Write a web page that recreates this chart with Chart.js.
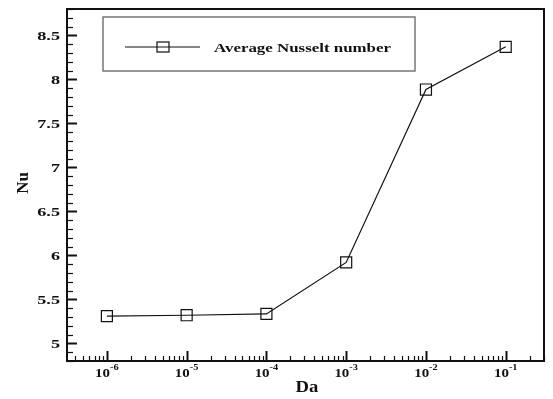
<!DOCTYPE html>
<html>
<head>
<meta charset="utf-8">
<script src="https://cdn.jsdelivr.net/npm/chart.js@4.4.1/dist/chart.umd.min.js"></script>
<style>
  html, body { margin: 0; padding: 0; background: #fff; }
  #wrap { width: 553px; height: 399px; position: relative; }
</style>
</head>
<body>
<div id="wrap"><canvas id="nuChart"></canvas></div>
<script>
const daValues = [1e-6, 1e-5, 1e-4, 1e-3, 1e-2, 1e-1];
const nuValues = [5.31, 5.32, 5.335, 5.92, 7.885, 8.37];
const yTickValues = [5, 5.5, 6, 6.5, 7, 7.5, 8, 8.5];
const xTickExponents = [-6, -5, -4, -3, -2, -1];
const seriesLabel = 'Average Nusselt number';

const SERIF = '"Liberation Serif", "DejaVu Serif", serif';
const INK = '#111';

// text squeezed/stretched horizontally like the original export
function wideText(ctx, text, x, y, align, sx) {
  ctx.save();
  ctx.translate(x, y);
  ctx.scale(sx, 1);
  ctx.textAlign = align;
  ctx.fillText(text, 0, 0);
  ctx.restore();
}

// ticks pointing inward, frame, labels, axis titles, legend box
const framePlugin = {
  id: 'framePlugin',
  afterDraw(chart) {
    const ctx = chart.ctx;
    const area = chart.chartArea;
    const xs = chart.scales.x;
    const ys = chart.scales.y;
    ctx.save();
    ctx.strokeStyle = INK;
    ctx.fillStyle = INK;
    ctx.textBaseline = 'alphabetic';

    // top and right frame
    ctx.lineWidth = 2;
    ctx.beginPath();
    ctx.moveTo(area.left, area.top);
    ctx.lineTo(area.right, area.top);
    ctx.lineTo(area.right, area.bottom);
    ctx.stroke();

    // y ticks every 0.1, major every 0.5
    for (let i = Math.ceil(ys.min * 10); i <= Math.floor(ys.max * 10); i++) {
      const py = Math.round(ys.getPixelForValue(i / 10)) + 0.5;
      const major = i % 5 === 0;
      ctx.lineWidth = major ? 2 : 1.2;
      ctx.beginPath();
      ctx.moveTo(area.left, py);
      ctx.lineTo(area.left + (major ? 10 : 6), py);
      ctx.stroke();
    }

    // y labels
    ctx.font = 'bold 13px ' + SERIF;
    yTickValues.forEach(v => {
      const py = ys.getPixelForValue(v);
      wideText(ctx, String(v), 60, py + 4.5, 'right', 1.4);
    });

    // x ticks: decades major, 2..9 minor
    for (let e = -7; e <= 0; e++) {
      for (let m = 1; m <= 9; m++) {
        const v = m * Math.pow(10, e);
        if (v < xs.min || v > xs.max) continue;
        const px = Math.round(xs.getPixelForValue(v)) + 0.5;
        const major = m === 1;
        ctx.lineWidth = major ? 2 : 1.2;
        ctx.beginPath();
        ctx.moveTo(px, area.bottom);
        ctx.lineTo(px, area.bottom - (major ? 10 : 5));
        ctx.stroke();
      }
    }

    // x tick labels 10^n
    xTickExponents.forEach(e => {
      const px = xs.getPixelForValue(Math.pow(10, e));
      ctx.font = 'bold 13px ' + SERIF;
      const bw = ctx.measureText('10').width * 1.15;
      ctx.font = 'bold 9px ' + SERIF;
      const ew = ctx.measureText(String(e)).width * 1.15;
      const start = px - (bw + ew) / 2;
      ctx.font = 'bold 13px ' + SERIF;
      wideText(ctx, '10', start, 377, 'left', 1.15);
      ctx.font = 'bold 9px ' + SERIF;
      wideText(ctx, String(e), start + bw, 370, 'left', 1.15);
    });

    // axis titles
    ctx.font = 'bold 17px ' + SERIF;
    wideText(ctx, 'Da', 307, 392, 'center', 1.1);
    ctx.save();
    ctx.translate(28, 183);
    ctx.rotate(-Math.PI / 2);
    ctx.textAlign = 'center';
    ctx.fillText('Nu', 0, 0);
    ctx.restore();

    // legend box
    ctx.strokeStyle = '#777';
    ctx.lineWidth = 1.5;
    ctx.strokeRect(103, 17, 312, 54);
    ctx.strokeStyle = INK;
    ctx.lineWidth = 1.2;
    ctx.beginPath();
    ctx.moveTo(125, 47);
    ctx.lineTo(200, 47);
    ctx.stroke();
    ctx.strokeRect(157, 42, 12, 10);
    ctx.font = 'bold 13px ' + SERIF;
    const natural = ctx.measureText(seriesLabel).width;
    wideText(ctx, seriesLabel, 214, 52, 'left', 177 / natural);

    ctx.restore();
  }
};

new Chart(document.getElementById('nuChart'), {
  type: 'line',
  data: {
    datasets: [{
      label: seriesLabel,
      data: daValues.map((d, i) => ({ x: d, y: nuValues[i] })),
      borderColor: INK,
      borderWidth: 1.2,
      backgroundColor: 'rgba(0,0,0,0)',
      pointStyle: 'rect',
      pointRadius: 7.8,
      pointBorderWidth: 1.2,
      pointBorderColor: INK,
      pointBackgroundColor: 'rgba(0,0,0,0)',
      fill: false,
      tension: 0
    }]
  },
  options: {
    responsive: true,
    maintainAspectRatio: false,
    animation: false,
    layout: { padding: { left: 0, right: 6, top: 5, bottom: 0 } },
    plugins: {
      legend: { display: false },
      tooltip: { enabled: false }
    },
    scales: {
      x: {
        type: 'logarithmic',
        min: Math.pow(10, -6.5),
        max: Math.pow(10, -0.52),
        grid: { display: false, drawTicks: false },
        border: { display: true, color: INK, width: 2 },
        ticks: { display: false },
        afterFit: s => { s.height = 38; }
      },
      y: {
        min: 4.8,
        max: 8.8,
        grid: { display: false, drawTicks: false },
        border: { display: true, color: INK, width: 2 },
        ticks: { display: false },
        afterFit: s => { s.width = 67; }
      }
    }
  },
  plugins: [framePlugin]
});
</script>
</body>
</html>
